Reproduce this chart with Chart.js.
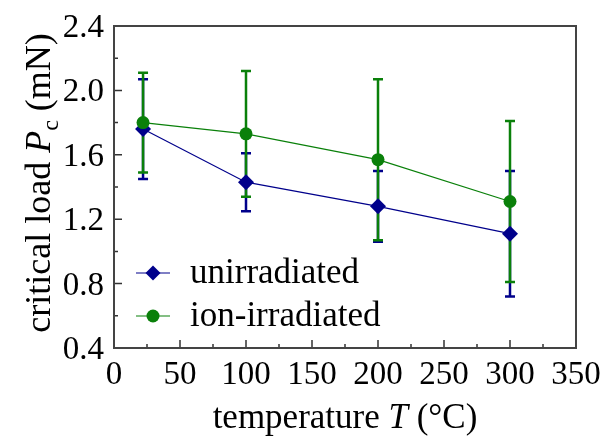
<!DOCTYPE html>
<html>
<head>
<meta charset="utf-8">
<script src="https://cdn.jsdelivr.net/npm/chart.js@4.4.1/dist/chart.umd.min.js"></script>
<style>
  html, body { margin: 0; padding: 0; background: #fff; }
  #wrap { width: 603px; height: 439px; }
</style>
</head>
<body>
<div id="wrap"><canvas id="chart"></canvas></div>
<script>
// data
const temps = [22, 100, 200, 300];
const unirradiated = [1.76, 1.43, 1.28, 1.11];
const unirradiatedErr = [0.31, 0.18, 0.22, 0.39];
const ionIrradiated = [1.80, 1.73, 1.57, 1.31];
const ionIrradiatedErr = [0.31, 0.39, 0.50, 0.50];

const xTicks = [0, 50, 100, 150, 200, 250, 300, 350];
const yTicks = [0.4, 0.8, 1.2, 1.6, 2.0, 2.4];

const blue = '#00008b';
const green = '#0a800a';
const serif = '"Liberation Serif", "Times New Roman", serif';

function toPoints(ys) {
    return temps.map((t, i) => ({ x: t, y: ys[i] }));
}

// draw a run of text pieces (normal / italic / subscript) starting at x
function drawRuns(ctx, parts, x, y) {
    parts.forEach(p => {
        ctx.font = p.f;
        ctx.fillText(p.t, x, y + (p.dy || 0));
        x += ctx.measureText(p.t).width;
    });
}
function runsWidth(ctx, parts) {
    let w = 0;
    parts.forEach(p => { ctx.font = p.f; w += ctx.measureText(p.t).width; });
    return w;
}

// error bars, drawn through the scales
const errorBars = {
    id: 'errorBars',
    beforeDatasetsDraw(chart) {
        const ctx = chart.ctx;
        const xs = chart.scales.x, ys = chart.scales.y;
        const sets = [
            { vals: unirradiated, err: unirradiatedErr, color: blue },
            { vals: ionIrradiated, err: ionIrradiatedErr, color: green }
        ];
        ctx.save();
        sets.forEach(s => {
            ctx.strokeStyle = s.color;
            ctx.lineWidth = 2.5;
            temps.forEach((t, i) => {
                const px = xs.getPixelForValue(t);
                const top = ys.getPixelForValue(s.vals[i] + s.err[i]);
                const bot = ys.getPixelForValue(s.vals[i] - s.err[i]);
                ctx.beginPath();
                ctx.moveTo(px, top); ctx.lineTo(px, bot);
                ctx.moveTo(px - 5, top); ctx.lineTo(px + 5, top);
                ctx.moveTo(px - 5, bot); ctx.lineTo(px + 5, bot);
                ctx.stroke();
            });
        });
        ctx.restore();
    }
};

// frame, inward ticks, tick labels, axis titles, legend
const decorations = {
    id: 'decorations',
    afterDraw(chart) {
        const ctx = chart.ctx;
        const a = chart.chartArea;
        const xs = chart.scales.x, ys = chart.scales.y;
        ctx.save();

        // ticks pointing inside
        ctx.strokeStyle = '#333';
        ctx.lineWidth = 1.5;
        ctx.beginPath();
        for (let v = 0; v <= 350; v += 25) {
            const px = xs.getPixelForValue(v);
            const len = v % 50 === 0 ? 8 : 4;
            ctx.moveTo(px, a.bottom); ctx.lineTo(px, a.bottom - len);
        }
        for (let k = 0; k <= 10; k++) {
            const py = ys.getPixelForValue(0.4 + k * 0.2);
            const len = k % 2 === 0 ? 8 : 4;
            ctx.moveTo(a.left, py); ctx.lineTo(a.left + len, py);
        }
        ctx.stroke();

        // frame
        ctx.strokeStyle = '#444';
        ctx.lineWidth = 2;
        ctx.strokeRect(a.left, a.top, a.right - a.left, a.bottom - a.top);

        // tick labels
        ctx.fillStyle = '#000';
        ctx.font = '33px ' + serif;
        ctx.textBaseline = 'alphabetic';
        ctx.textAlign = 'center';
        xTicks.forEach(v => {
            ctx.fillText(String(v), xs.getPixelForValue(v), a.bottom + 36);
        });
        ctx.textAlign = 'right';
        yTicks.forEach(v => {
            ctx.fillText(v.toFixed(1), a.left - 10, ys.getPixelForValue(v) + 11);
        });
        ctx.textAlign = 'left';

        // x title
        const xParts = [
            { t: 'temperature ', f: '35px ' + serif },
            { t: 'T', f: 'italic 35px ' + serif },
            { t: ' (\u00b0C)', f: '35px ' + serif }
        ];
        drawRuns(ctx, xParts, (a.left + a.right) / 2 - runsWidth(ctx, xParts) / 2, 428);

        // y title, rotated, with subscript
        ctx.save();
        ctx.translate(50, (a.top + a.bottom) / 2 - 4);
        ctx.rotate(-Math.PI / 2);
        const yParts = [
            { t: 'critical load ', f: '36px ' + serif },
            { t: 'P', f: 'italic 36px ' + serif },
            { t: 'c', f: '24px ' + serif, dy: 8 },
            { t: ' (mN)', f: '36px ' + serif }
        ];
        drawRuns(ctx, yParts, -runsWidth(ctx, yParts) / 2, 0);
        ctx.restore();

        // legend
        const items = [
            { label: 'unirradiated', color: blue, style: 'rectRot', r: 7.5 },
            { label: 'ion-irradiated', color: green, style: 'circle', r: 6.5 }
        ];
        items.forEach((it, i) => {
            const ly = 273 + i * 43;
            ctx.strokeStyle = it.color;
            ctx.lineWidth = 1.2;
            ctx.beginPath();
            ctx.moveTo(136, ly); ctx.lineTo(170, ly);
            ctx.stroke();
            ctx.fillStyle = it.color;
            Chart.helpers.drawPoint(ctx, { pointStyle: it.style, radius: it.r, borderWidth: 0 }, 153, ly);
            ctx.fillStyle = '#000';
            ctx.font = '35px ' + serif;
            ctx.textBaseline = 'middle';
            ctx.fillText(it.label, 190, ly + 1);
        });

        ctx.restore();
    }
};

new Chart(document.getElementById('chart'), {
    type: 'line',
    data: {
        datasets: [
            {
                label: 'unirradiated',
                data: toPoints(unirradiated),
                borderColor: blue,
                backgroundColor: blue,
                borderWidth: 1.2,
                pointStyle: 'rectRot',
                pointRadius: 8,
                pointBorderWidth: 0,
                order: 2
            },
            {
                label: 'ion-irradiated',
                data: toPoints(ionIrradiated),
                borderColor: green,
                backgroundColor: green,
                borderWidth: 1.2,
                pointStyle: 'circle',
                pointRadius: 6.5,
                pointBorderWidth: 0,
                order: 1
            }
        ]
    },
    options: {
        responsive: true,
        maintainAspectRatio: false,
        animation: false,
        layout: { padding: { top: 26, right: 27, bottom: 0, left: 0 } },
        plugins: {
            legend: { display: false },
            tooltip: { enabled: false }
        },
        scales: {
            x: {
                type: 'linear',
                min: 0,
                max: 350,
                afterBuildTicks: axis => { axis.ticks = xTicks.map(v => ({ value: v })); },
                afterFit: axis => { axis.height = 91; },
                ticks: { display: false },
                grid: { display: false },
                border: { display: false }
            },
            y: {
                type: 'linear',
                min: 0.4,
                max: 2.4,
                afterBuildTicks: axis => { axis.ticks = yTicks.map(v => ({ value: v })); },
                afterFit: axis => { axis.width = 114; },
                ticks: { display: false },
                grid: { display: false },
                border: { display: false }
            }
        }
    },
    plugins: [errorBars, decorations]
});
</script>
</body>
</html>
